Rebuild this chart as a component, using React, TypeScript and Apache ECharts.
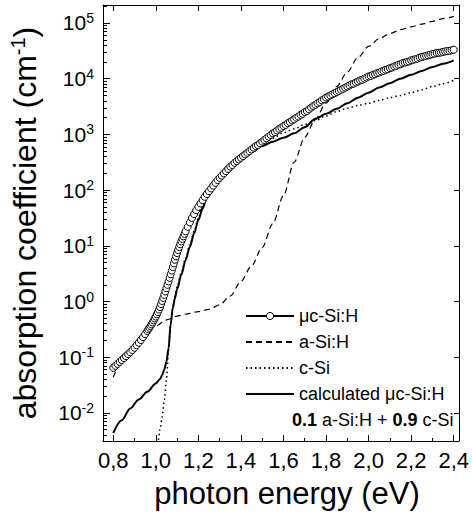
import React, { useEffect, useRef } from "react";
import * as echarts from "echarts";

// ---- axis ranges (photon energy in eV, log10 of absorption coefficient in cm^-1)
const X_MIN = 0.752;
const X_MAX = 2.425;
const Y_MIN = -2.503;
const Y_MAX = 5.323;

// ---- tick values / labels
const xMajorTicks = [0.8, 1.0, 1.2, 1.4, 1.6, 1.8, 2.0, 2.2, 2.4];
const xMinorTicks = [0.9, 1.1, 1.3, 1.5, 1.7, 1.9, 2.1, 2.3];
const yDecadeExponents = [-2, -1, 0, 1, 2, 3, 4, 5];
const yMinorTicks: number[] = [];
for (let n = -3; n <= 5; n++) {
  for (let k = 2; k <= 9; k++) {
    const v = n + Math.log10(k);
    if (v > Y_MIN && v < Y_MAX) yMinorTicks.push(v);
  }
}

// ---- series: [photon energy (eV), log10(alpha / cm^-1)]
const mucSiH: [number, number][] = [
  [0.80, -1.19], [0.81, -1.155], [0.82, -1.12], [0.83, -1.085], [0.84, -1.05],
  [0.85, -1.015], [0.86, -0.98], [0.87, -0.945], [0.88, -0.91], [0.89, -0.87],
  [0.90, -0.83], [0.91, -0.785], [0.92, -0.74], [0.93, -0.69], [0.94, -0.64],
  [0.95, -0.585], [0.96, -0.53], [0.965, -0.50], [0.97, -0.47], [0.975, -0.44],
  [0.98, -0.41], [0.985, -0.375], [0.99, -0.34], [0.995, -0.305], [1.00, -0.27],
  [1.005, -0.23], [1.01, -0.19], [1.015, -0.145], [1.02, -0.10], [1.025, -0.045],
  [1.03, 0.01], [1.035, 0.065], [1.04, 0.12], [1.045, 0.18], [1.05, 0.24],
  [1.055, 0.30], [1.06, 0.36], [1.065, 0.425], [1.07, 0.49], [1.075, 0.555],
  [1.08, 0.62], [1.085, 0.685], [1.09, 0.75], [1.095, 0.81], [1.10, 0.87],
  [1.105, 0.925], [1.11, 0.98], [1.115, 1.03], [1.12, 1.08], [1.125, 1.125],
  [1.13, 1.17], [1.135, 1.215], [1.14, 1.26],
  [1.15, 1.34], [1.16, 1.42], [1.17, 1.50], [1.18, 1.57], [1.19, 1.64],
  [1.20, 1.70], [1.21, 1.76], [1.22, 1.82], [1.23, 1.88], [1.24, 1.93],
  [1.25, 1.98], [1.26, 2.03], [1.27, 2.08], [1.28, 2.13], [1.29, 2.18],
  [1.30, 2.22], [1.31, 2.26], [1.32, 2.30], [1.33, 2.34], [1.34, 2.38],
  [1.35, 2.42], [1.36, 2.45], [1.37, 2.49], [1.38, 2.52], [1.39, 2.55],
  [1.40, 2.58], [1.41, 2.61], [1.42, 2.64], [1.43, 2.67], [1.44, 2.70],
  [1.45, 2.73], [1.46, 2.76], [1.47, 2.79], [1.48, 2.81], [1.49, 2.84],
  [1.50, 2.87], [1.51, 2.90], [1.52, 2.93], [1.53, 2.96], [1.54, 2.99],
  [1.55, 3.02], [1.56, 3.04], [1.57, 3.07], [1.58, 3.10], [1.59, 3.12],
  [1.60, 3.15], [1.61, 3.17], [1.62, 3.20], [1.63, 3.22], [1.64, 3.25],
  [1.65, 3.27], [1.66, 3.30], [1.67, 3.32], [1.68, 3.35], [1.69, 3.37],
  [1.70, 3.40], [1.71, 3.42], [1.72, 3.45], [1.73, 3.48], [1.74, 3.51],
  [1.75, 3.53], [1.76, 3.56], [1.77, 3.58], [1.78, 3.61], [1.79, 3.63],
  [1.80, 3.66], [1.81, 3.68], [1.82, 3.70], [1.83, 3.72], [1.84, 3.74],
  [1.85, 3.76], [1.86, 3.78], [1.87, 3.80], [1.88, 3.82], [1.89, 3.84],
  [1.90, 3.86], [1.91, 3.88], [1.92, 3.90], [1.93, 3.91], [1.94, 3.93],
  [1.95, 3.95], [1.96, 3.97], [1.97, 3.98], [1.98, 4.00], [1.99, 4.02],
  [2.00, 4.04], [2.01, 4.05], [2.02, 4.07], [2.03, 4.08], [2.04, 4.10],
  [2.05, 4.11], [2.06, 4.13], [2.07, 4.14], [2.08, 4.16], [2.09, 4.17],
  [2.10, 4.19], [2.11, 4.20], [2.12, 4.22], [2.13, 4.23], [2.14, 4.25],
  [2.15, 4.26], [2.16, 4.28], [2.17, 4.29], [2.18, 4.30], [2.19, 4.31],
  [2.20, 4.33], [2.21, 4.34], [2.22, 4.35], [2.23, 4.36], [2.24, 4.38],
  [2.25, 4.39], [2.26, 4.40], [2.27, 4.41], [2.28, 4.42], [2.29, 4.43],
  [2.30, 4.44], [2.31, 4.45], [2.32, 4.46], [2.33, 4.465], [2.34, 4.47],
  [2.35, 4.48], [2.36, 4.49], [2.37, 4.495], [2.38, 4.50], [2.39, 4.51],
  [2.40, 4.52],
];

const aSiH: [number, number][] = [
  [0.80, -1.36], [0.83, -1.15], [0.86, -0.99], [0.90, -0.80], [0.95, -0.58],
  [1.00, -0.44], [1.05, -0.33], [1.10, -0.26], [1.15, -0.22], [1.20, -0.18],
  [1.25, -0.14], [1.30, -0.06], [1.35, 0.10], [1.40, 0.36], [1.45, 0.64],
  [1.50, 0.97], [1.55, 1.40], [1.60, 1.90], [1.65, 2.50], [1.70, 2.95],
  [1.75, 3.27], [1.80, 3.56], [1.85, 3.86], [1.90, 4.12], [1.95, 4.38],
  [2.00, 4.58], [2.05, 4.72], [2.10, 4.81], [2.15, 4.88], [2.20, 4.93],
  [2.25, 4.98], [2.30, 5.03], [2.35, 5.08], [2.40, 5.12],
];

const cSi: [number, number][] = [
  [1.00, -2.80], [1.01, -2.52], [1.02, -2.30], [1.03, -2.07], [1.04, -1.78],
  [1.05, -1.40], [1.06, -0.90], [1.07, -0.40], [1.08, -0.10], [1.09, 0.10],
  [1.10, 0.26], [1.12, 0.52], [1.14, 0.78], [1.16, 1.02], [1.18, 1.26],
  [1.20, 1.50], [1.22, 1.71], [1.24, 1.91], [1.26, 2.06], [1.28, 2.17],
  [1.30, 2.26], [1.35, 2.45], [1.40, 2.60], [1.45, 2.72], [1.50, 2.84],
  [1.55, 2.93], [1.60, 3.03], [1.65, 3.10], [1.70, 3.18], [1.75, 3.25],
  [1.80, 3.33], [1.85, 3.41], [1.90, 3.47], [1.95, 3.52], [2.00, 3.56],
  [2.05, 3.61], [2.10, 3.66], [2.15, 3.70], [2.20, 3.75], [2.25, 3.80],
  [2.30, 3.86], [2.35, 3.91], [2.40, 3.97],
];

const calculatedMucSiH: [number, number][] = [
  [0.80, -2.36], [0.84, -2.13], [0.88, -1.92], [0.92, -1.76], [0.96, -1.62],
  [1.00, -1.47], [1.02, -1.39], [1.03, -1.32], [1.04, -1.22], [1.05, -1.08],
  [1.06, -0.84], [1.07, -0.40], [1.08, -0.12], [1.09, 0.06], [1.10, 0.22],
  [1.12, 0.48], [1.14, 0.74], [1.16, 0.98], [1.18, 1.22], [1.20, 1.46],
  [1.22, 1.67], [1.24, 1.87], [1.26, 2.02], [1.28, 2.13], [1.30, 2.22],
  [1.35, 2.41], [1.40, 2.56], [1.45, 2.68], [1.50, 2.79], [1.55, 2.87],
  [1.60, 2.94], [1.65, 3.02], [1.70, 3.13], [1.75, 3.28], [1.80, 3.37],
  [1.85, 3.46], [1.90, 3.56], [1.95, 3.66], [2.00, 3.75], [2.05, 3.84],
  [2.10, 3.92], [2.15, 4.00], [2.20, 4.07], [2.25, 4.14], [2.30, 4.21],
  [2.35, 4.27], [2.40, 4.33],
];

const seriesNames = ["μc-Si:H", "a-Si:H", "c-Si", "calculated μc-Si:H"];
const noteText = "{b|0.1} a-Si:H + {b|0.9} c-Si";

const FONT = "'Liberation Sans', Arial, Helvetica, sans-serif";
const BLACK = "#000";

export default function App() {
  const ref = useRef<HTMLDivElement>(null);

  useEffect(() => {
    if (!ref.current) return;
    const chart = echarts.init(ref.current, undefined, { renderer: "svg" });

    const baseX = {
      type: "value" as const,
      min: X_MIN,
      max: X_MAX,
      splitLine: { show: false },
      axisLine: { onZero: false, lineStyle: { color: BLACK, width: 1 } },
    };
    const baseY = {
      type: "value" as const,
      min: Y_MIN,
      max: Y_MAX,
      splitLine: { show: false },
      axisLine: { onZero: false, lineStyle: { color: BLACK, width: 1 } },
    };

    const hiddenSymbol = { opacity: 0 };

    const option: any = {
      animation: false,
      backgroundColor: "#fff",
      grid: { left: 103, right: 11, top: 5, bottom: 79, containLabel: false },
      xAxis: [
        {
          ...baseX,
          position: "bottom",
          axisTick: { inside: true, length: 6, customValues: xMajorTicks, lineStyle: { color: BLACK } },
          axisLabel: {
            customValues: xMajorTicks,
            margin: 8,
            color: BLACK,
            fontSize: 22,
            fontFamily: FONT,
            formatter: (v: number) => v.toFixed(1).replace(".", ","),
          },
          name: "photon energy (eV)",
          nameLocation: "middle",
          nameGap: 37,
          nameTextStyle: { fontSize: 31, color: BLACK, fontFamily: FONT, padding: [0, 0, 0, 12] },
        },
        {
          ...baseX,
          position: "bottom",
          axisLine: { show: false, onZero: false },
          axisTick: { inside: true, length: 3, customValues: xMinorTicks, lineStyle: { color: BLACK } },
          axisLabel: { show: false },
        },
        {
          ...baseX,
          position: "top",
          axisTick: { inside: true, length: 6, customValues: xMajorTicks, lineStyle: { color: BLACK } },
          axisLabel: { show: false },
        },
      ],
      yAxis: [
        {
          ...baseY,
          position: "left",
          axisTick: { inside: true, length: 7, customValues: yDecadeExponents, lineStyle: { color: BLACK } },
          axisLabel: {
            customValues: yDecadeExponents,
            margin: 9,
            color: BLACK,
            fontFamily: FONT,
            formatter: (v: number) => `{b|10}{s|${Math.round(v)}}`,
            rich: {
              b: { fontSize: 21, lineHeight: 24, fontFamily: FONT, color: BLACK },
              s: { fontSize: 14, lineHeight: 14, verticalAlign: "top", fontFamily: FONT, color: BLACK },
            },
          },
          name: "absorption coefficient (cm{s|-1})",
          nameLocation: "middle",
          nameRotate: 90,
          nameGap: 61,
          nameTextStyle: {
            fontSize: 32,
            lineHeight: 34,
            color: BLACK,
            fontFamily: FONT,
            rich: {
              s: { fontSize: 20, lineHeight: 20, verticalAlign: "top", fontFamily: FONT, color: BLACK },
            },
          },
        },
        {
          ...baseY,
          position: "left",
          axisLine: { show: false, onZero: false },
          axisTick: { inside: true, length: 4, customValues: yMinorTicks, lineStyle: { color: BLACK } },
          axisLabel: { show: false },
        },
        {
          ...baseY,
          position: "right",
          axisTick: { inside: true, length: 5, customValues: yDecadeExponents, lineStyle: { color: BLACK } },
          axisLabel: { show: false },
        },
      ],
      legend: {
        data: [
          { name: seriesNames[0], itemStyle: { color: "#fff", borderColor: BLACK, borderWidth: 1 } },
          { name: seriesNames[1], itemStyle: hiddenSymbol },
          { name: seriesNames[2], itemStyle: hiddenSymbol },
          { name: seriesNames[3], itemStyle: hiddenSymbol },
        ],
        orient: "vertical",
        left: 240,
        top: 302,
        itemWidth: 48,
        itemHeight: 9,
        itemGap: 8,
        selectedMode: false,
        textStyle: { fontSize: 18, lineHeight: 18, color: BLACK, fontFamily: FONT },
      },
      graphic: [
        {
          type: "text",
          x: 292,
          y: 420,
          style: {
            text: noteText,
            fontSize: 18,
            fontFamily: FONT,
            fill: BLACK,
            align: "left",
            verticalAlign: "middle",
            rich: {
              b: { fontSize: 18, fontWeight: "bold", fontFamily: FONT, fill: BLACK },
            },
          },
        },
      ],
      series: [
        {
          name: seriesNames[1],
          type: "line",
          data: aSiH,
          symbol: "none",
          smooth: 0.3,
          smoothMonotone: "x",
          itemStyle: { color: BLACK },
          lineStyle: { color: BLACK, width: 1.2, type: [6, 4] },
          z: 2,
        },
        {
          name: seriesNames[2],
          type: "line",
          data: cSi,
          symbol: "none",
          smooth: 0.3,
          smoothMonotone: "x",
          itemStyle: { color: BLACK },
          lineStyle: { color: BLACK, width: 1.5, type: [1.5, 3] },
          z: 2,
        },
        {
          name: seriesNames[3],
          type: "line",
          data: calculatedMucSiH,
          symbol: "none",
          smooth: 0.3,
          smoothMonotone: "x",
          itemStyle: { color: BLACK },
          lineStyle: { color: BLACK, width: 2 },
          z: 3,
        },
        {
          name: seriesNames[0],
          type: "line",
          data: mucSiH,
          symbol: "circle",
          symbolSize: 7,
          showAllSymbol: true,
          itemStyle: { color: "#fff", borderColor: BLACK, borderWidth: 1 },
          lineStyle: { color: BLACK, width: 1 },
          z: 5,
        },
      ],
    };

    chart.setOption(option);
    return () => chart.dispose();
  }, []);

  return (
    <div
      ref={ref}
      style={{ position: "absolute", left: 0, top: 0, width: 472, height: 520, background: "#fff" }}
    />
  );
}
